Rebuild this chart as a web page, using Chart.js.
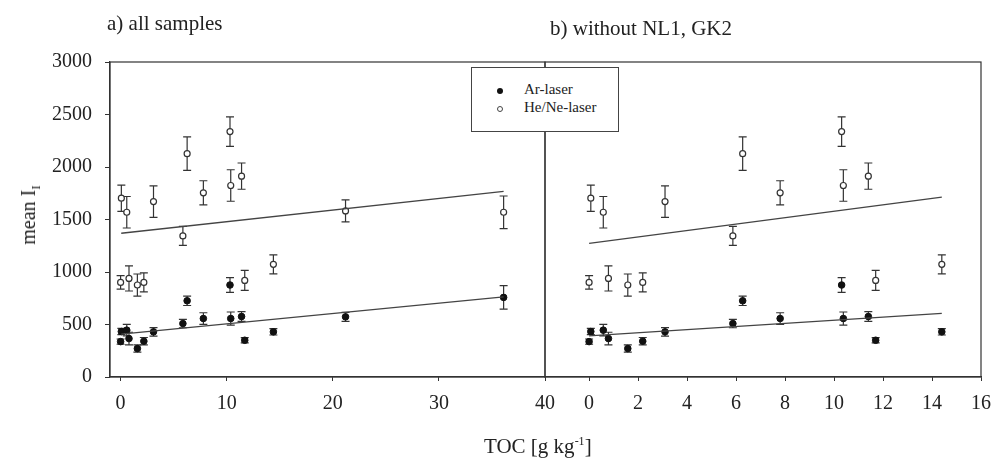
<!DOCTYPE html>
<html>
<head>
<meta charset="utf-8">
<script src="https://cdn.jsdelivr.net/npm/chart.js@4.4.1/dist/chart.umd.min.js"></script>
<style>
  body { margin: 0; background: #fff; overflow: hidden; }
  #wrap { position: relative; width: 995px; height: 466px; font-family: 'Liberation Serif', serif; color: #222; overflow: hidden; }
  canvas { position: absolute; top: 0; }
  .txt { position: absolute; font-size: 20px; white-space: nowrap; line-height: 22px; }
  #legend { position: absolute; left: 471px; top: 67px; width: 146px; height: 63px; border: 1px solid #444; background: #fff; font-size: 15px; z-index: 5; }
  #legend div { position: absolute; left: 52px; }
  .dot { position: absolute; width: 6px; height: 6px; border-radius: 50%; box-sizing: border-box; }
</style>
</head>
<body>
<div id="wrap">
  <canvas id="left" width="560" height="466" style="left:0;width:560px;height:466px"></canvas>
  <canvas id="right" width="465" height="466" style="left:530px;width:465px;height:466px"></canvas>
  <div class="txt" style="left:107px;top:12px;font-size:21px">a) all samples</div>
  <div class="txt" style="left:550px;top:17px;font-size:21px">b) without NL1, GK2</div>
  <div class="txt" style="left:484px;top:430px;font-size:21px">TOC [g kg<sup style="font-size:12px">-1</sup>]</div>
  <div class="txt" style="left:32px;top:215px;transform:translate(-50%,-50%) rotate(-90deg)">mean I<sub style="font-size:13px">I</sub></div>
  <div id="legend">
    <span class="dot" style="left:25px;top:20px;background:#111"></span>
    <div style="top:13px">Ar-laser</div>
    <span class="dot" style="left:25px;top:38px;border:1.2px solid #444;background:#fff"></span>
    <div style="top:31px">He/Ne-laser</div>
  </div>
</div>
<script>
// samples, sorted by TOC; the last two are NL1 and GK2
let toc = [0.0, 0.07, 0.58, 0.79, 1.58, 2.19, 3.1, 5.87, 6.27, 7.8, 10.31, 10.38, 11.4, 11.7, 14.4, 21.2, 36.1];
let arMean = [337, 433, 446, 366, 271, 341, 430, 509, 726, 557, 876, 557, 576, 350, 430, 573, 758];
let arErr = [25, 30, 55, 60, 35, 35, 40, 40, 45, 55, 70, 62, 46, 25, 30, 43, 112];
let heMean = [901, 1703, 1569, 939, 876, 901, 1671, 1344, 2127, 1754, 2337, 1824, 1913, 920, 1073, 1582, 1569];
let heErr = [65, 125, 150, 120, 105, 90, 150, 90, 160, 115, 140, 150, 125, 95, 90, 105, 155];

// regression lines (end points)
let fitAllX = [0.06, 36.1];
let fitAllAr = [408, 764];
let fitAllHe = [1369, 1767];
let fitSubX = [0, 14.4];
let fitSubAr = [392, 605];
let fitSubHe = [1273, 1713];

let yTicks = [0, 500, 1000, 1500, 2000, 2500, 3000];
let xTicksAll = [0, 10, 20, 30, 40];
let xTicksSub = [0, 2, 4, 6, 8, 10, 12, 14, 16];

Chart.defaults.font.family = "'Liberation Serif', serif";
Chart.defaults.font.size = 20;
Chart.defaults.color = '#222';

const ink = '#333';

const errorBars = {
  id: 'errorBars',
  beforeDatasetsDraw(chart) {
    const { ctx, chartArea: a, scales: { x, y } } = chart;
    ctx.save();
    ctx.strokeStyle = ink;
    ctx.lineWidth = 1.2;
    ctx.strokeRect(a.left, a.top, a.right - a.left, a.bottom - a.top);
    chart.data.datasets.forEach(ds => {
      if (!ds.errors) return;
      ds.data.forEach((p, i) => {
        const px = x.getPixelForValue(p.x);
        const t = y.getPixelForValue(p.y + ds.errors[i]);
        const b = y.getPixelForValue(p.y - ds.errors[i]);
        ctx.beginPath();
        ctx.moveTo(px, t); ctx.lineTo(px, b);
        ctx.moveTo(px - 4, t); ctx.lineTo(px + 4, t);
        ctx.moveTo(px - 4, b); ctx.lineTo(px + 4, b);
        ctx.stroke();
      });
    });
    ctx.restore();
  }
};

function pts(xs, ys) {
  return xs.map((v, i) => ({ x: v, y: ys[i] }));
}

function makePanel(id, n, fitX, fitAr, fitHe, xMin, xMax, xTicks, showY, pad) {
  const xs = toc.slice(0, n);
  return new Chart(document.getElementById(id), {
    type: 'scatter',
    data: {
      datasets: [
        { data: pts(fitX, fitAr), showLine: true, pointRadius: 0, borderColor: '#444', borderWidth: 1.3 },
        { data: pts(fitX, fitHe), showLine: true, pointRadius: 0, borderColor: '#444', borderWidth: 1.3 },
        { data: pts(xs, heMean.slice(0, n)), errors: heErr, pointRadius: 3, backgroundColor: '#fff', borderColor: ink, borderWidth: 1.2 },
        { data: pts(xs, arMean.slice(0, n)), errors: arErr, pointRadius: 3.3, backgroundColor: '#111', borderColor: '#111', borderWidth: 1 }
      ]
    },
    options: {
      responsive: false,
      animation: false,
      layout: { padding: pad },
      plugins: { legend: { display: false }, tooltip: { enabled: false } },
      scales: {
        x: {
          type: 'linear', min: xMin, max: xMax,
          afterBuildTicks: s => { s.ticks = xTicks.map(v => ({ value: v })); },
          afterFit: s => { s.height = 89; s.paddingLeft = 0; s.paddingRight = 0; },
          grid: { drawOnChartArea: false, drawTicks: true, tickLength: 4, color: ink },
          border: { display: true, color: ink, width: 1.2 },
          ticks: { padding: 11, maxRotation: 0, callback: v => String(v) }
        },
        y: {
          display: showY,
          min: 0, max: 3000,
          afterBuildTicks: s => { s.ticks = yTicks.map(v => ({ value: v })); },
          afterFit: s => { s.width = showY ? 110 : 0; s.paddingTop = 0; s.paddingBottom = 0; },
          grid: { drawOnChartArea: false, drawTicks: true, tickLength: 5, color: ink },
          border: { display: true, color: ink, width: 1.2 },
          ticks: { padding: 13, callback: v => String(v) }
        }
      }
    },
    plugins: [errorBars]
  });
}

makePanel('left', toc.length, fitAllX, fitAllAr, fitAllHe, -1, 40, xTicksAll, true, { top: 62, right: 15, left: 0, bottom: 0 });
makePanel('right', 15, fitSubX, fitSubAr, fitSubHe, -1.8, 16, xTicksSub, false, { top: 62, right: 14, left: 15, bottom: 0 });
</script>
</body>
</html>
